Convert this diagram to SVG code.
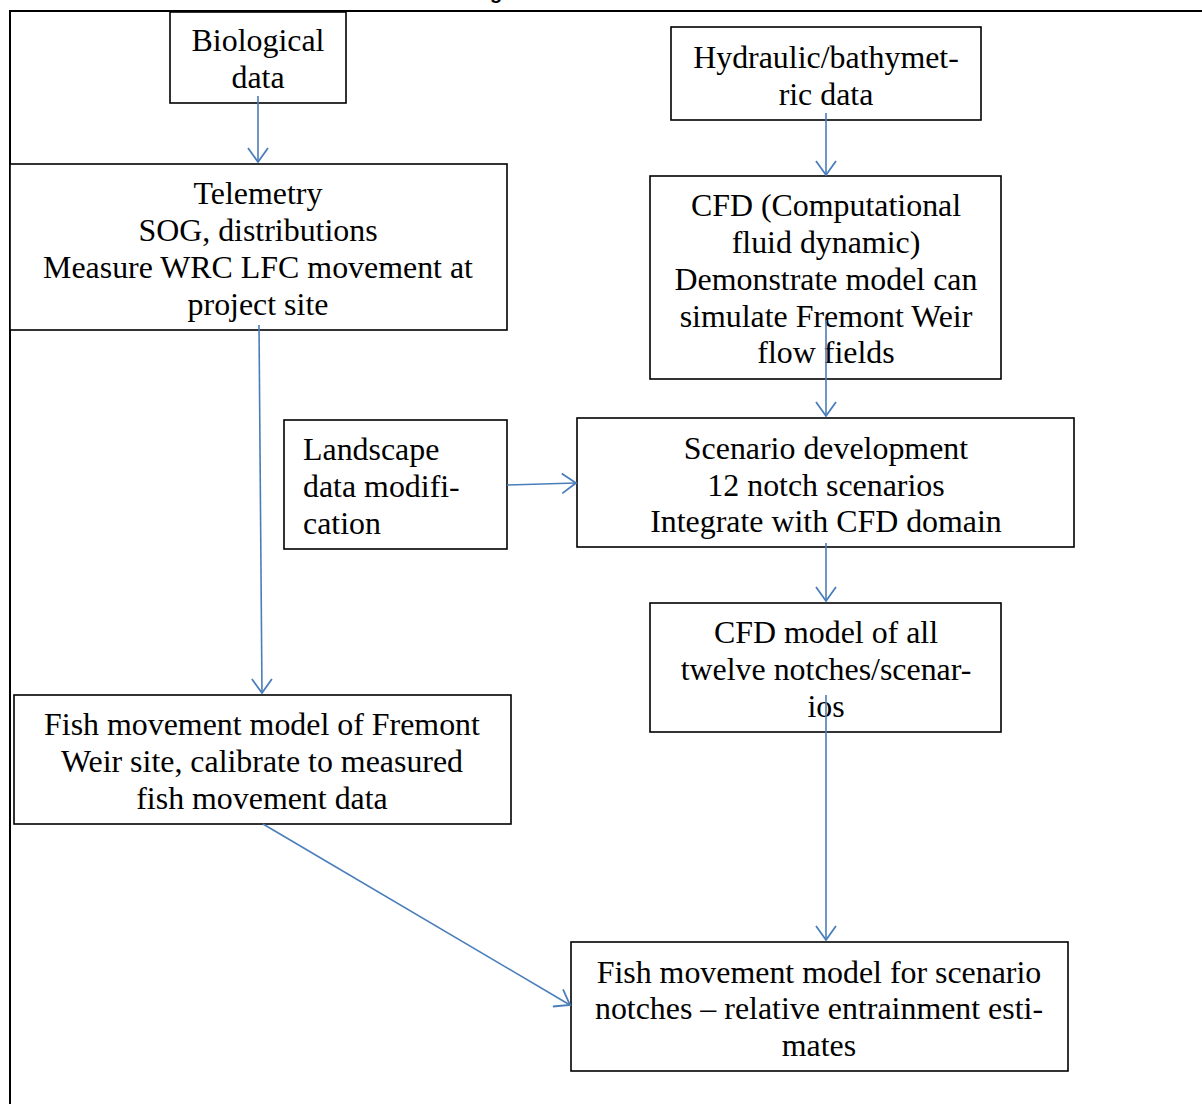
<svg xmlns="http://www.w3.org/2000/svg" width="1202" height="1104" viewBox="0 0 1202 1104">
<style>
.box{fill:#fff;stroke:#000;stroke-width:1.6}
.t{font-family:"Liberation Serif","Times New Roman",serif;font-size:31.9px;fill:#000;text-anchor:middle}
.tl{text-anchor:start}
.c{fill:none;stroke:#4a7ebb;stroke-width:1.6}
</style>
<defs>
<marker id="ah" markerUnits="userSpaceOnUse" markerWidth="24" markerHeight="24" refX="15" refY="12" orient="auto" viewBox="0 0 24 24">
<path d="M1,2 L15,12 L1,22" fill="none" stroke="#4a7ebb" stroke-width="1.8"/>
</marker>
</defs>
<rect width="1202" height="1104" fill="#fff"/>
<text x="490" y="-1" style="font-family:'Liberation Sans',Arial,sans-serif;font-weight:bold;font-size:20px">g</text>
<path d="M10,1104 V11 H1202" fill="none" stroke="#000" stroke-width="2"/>
<g id="n1"><rect class="box" x="170" y="12" width="176" height="91"/>
<text class="t" x="258" y="51">Biological</text><text class="t" x="258" y="88">data</text></g>
<g id="n2"><rect class="box" x="10" y="164" width="497" height="166"/>
<text class="t" x="258" y="204">Telemetry</text><text class="t" x="258" y="241">SOG, distributions</text><text class="t" x="258" y="278">Measure WRC LFC movement at</text><text class="t" x="258" y="315">project site</text></g>
<g id="n3"><rect class="box" x="671" y="27" width="310" height="93"/>
<text class="t" x="826" y="68">Hydraulic/bathymet-</text><text class="t" x="826" y="105">ric data</text></g>
<g id="n4"><rect class="box" x="650" y="176" width="351" height="203"/>
<text class="t" x="826" y="216">CFD (Computational</text><text class="t" x="826" y="253">fluid dynamic)</text><text class="t" x="826" y="290">Demonstrate model can</text><text class="t" x="826" y="327">simulate Fremont Weir</text><text class="t" x="826" y="363">flow fields</text></g>
<g id="n5"><rect class="box" x="284" y="420" width="223" height="129"/>
<text class="t tl" x="303" y="460">Landscape</text><text class="t tl" x="303" y="497">data modifi-</text><text class="t tl" x="303" y="534">cation</text></g>
<g id="n6"><rect class="box" x="577" y="418" width="497" height="129"/>
<text class="t" x="826" y="459">Scenario development</text><text class="t" x="826" y="496">12 notch scenarios</text><text class="t" x="826" y="532">Integrate with CFD domain</text></g>
<g id="n7"><rect class="box" x="650" y="603" width="351" height="129"/>
<text class="t" x="826" y="643">CFD model of all</text><text class="t" x="826" y="680">twelve notches/scenar-</text><text class="t" x="826" y="717">ios</text></g>
<g id="n8"><rect class="box" x="14" y="695" width="497" height="129"/>
<text class="t" x="262" y="735">Fish movement model of Fremont</text><text class="t" x="262" y="772">Weir site, calibrate to measured</text><text class="t" x="262" y="809">fish movement data</text></g>
<g id="n9"><rect class="box" x="571" y="942" width="497" height="129"/>
<text class="t" x="819" y="983">Fish movement model for scenario</text><text class="t" x="819" y="1019">notches – relative entrainment esti-</text><text class="t" x="819" y="1056">mates</text></g>
<g id="connectors">
<line class="c" x1="258" y1="96" x2="258" y2="162" marker-end="url(#ah)"/>
<line class="c" x1="826" y1="113" x2="826" y2="175" marker-end="url(#ah)"/>
<line class="c" x1="826" y1="320" x2="826" y2="416" marker-end="url(#ah)"/>
<line class="c" x1="507" y1="485" x2="576" y2="483" marker-end="url(#ah)"/>
<line class="c" x1="826" y1="543" x2="826" y2="601" marker-end="url(#ah)"/>
<line class="c" x1="826" y1="695" x2="826" y2="940" marker-end="url(#ah)"/>
<line class="c" x1="259" y1="325" x2="262" y2="693" marker-end="url(#ah)"/>
<line class="c" x1="263" y1="824" x2="570" y2="1005" marker-end="url(#ah)"/>
</g>
</svg>
